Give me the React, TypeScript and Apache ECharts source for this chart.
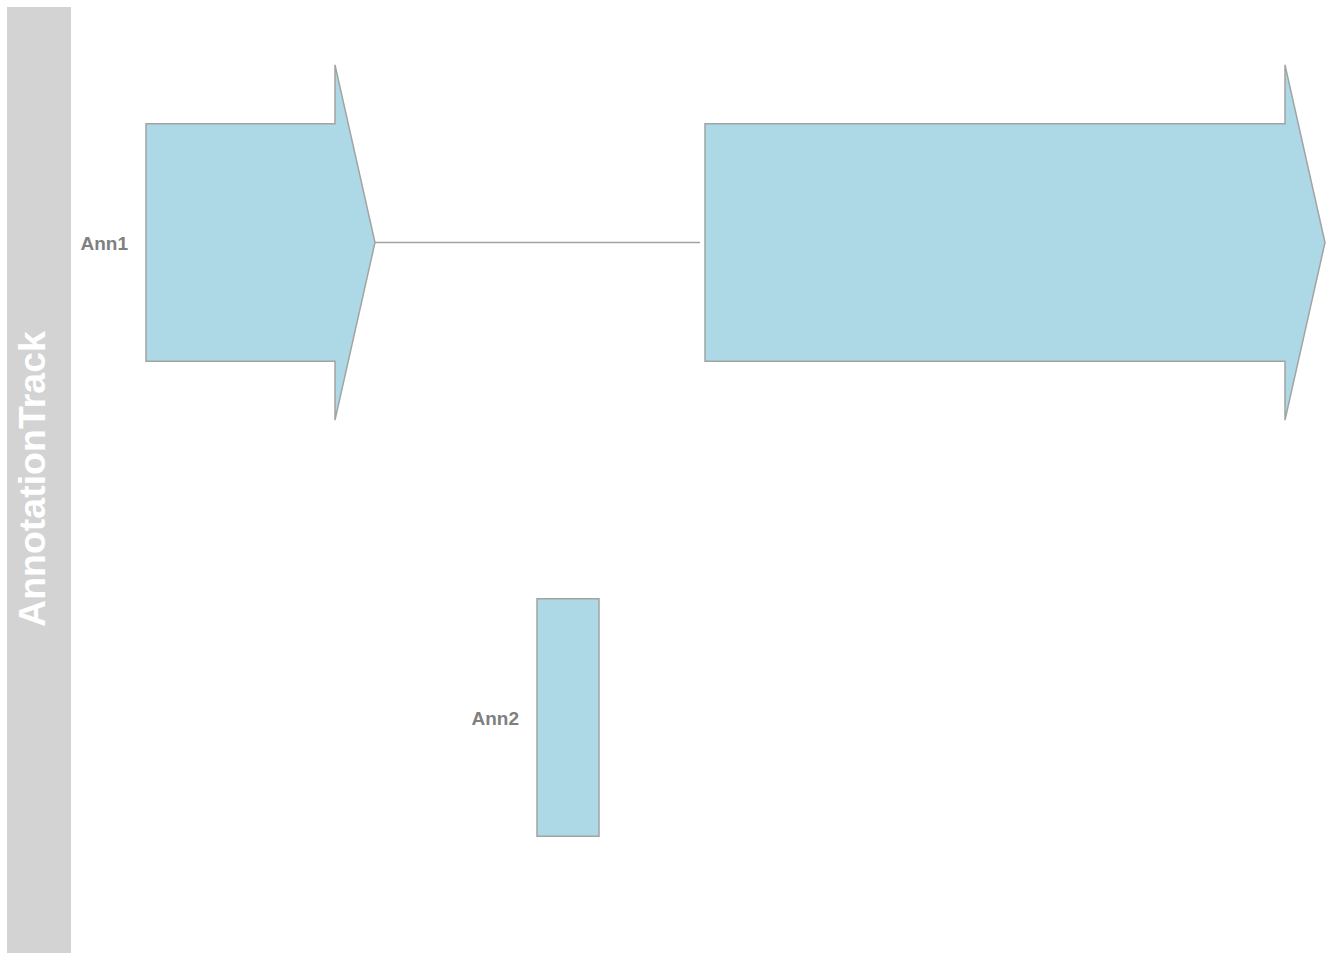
import React, { useEffect, useRef } from "react";
import * as echarts from "echarts";

// Track data (genomic-like coordinates)
const trackTitle = "AnnotationTrack";
const groupNames = ["Ann1", "Ann2"];
const groupRows = [1, 2];
const groupStart = [1146, 1537];
const groupEnd = [2325, 1599];
const featStart = [1146, 1705, 1537];
const featEnd = [1375, 2325, 1599];
const featGroup = [0, 0, 1];
const featStrand = ["+", "+", "*"];

export default function App() {
  const ref = useRef<HTMLDivElement>(null);
  useEffect(() => {
    document.body.style.margin = "0";
    const chart = echarts.init(ref.current!, null, { renderer: "svg" });
    const fill = "#ADD8E6";
    const stroke = "#A3A3A3";
    const headLen = 40;

    const featData = featStart.map((s, i) => [s, featEnd[i], groupRows[featGroup[i]], featStrand[i] === "+" ? 1 : 0, i]);
    const groupData = groupNames.map((n, i) => [groupStart[i], groupEnd[i], groupRows[i], i]);

    chart.setOption({
      animation: false,
      grid: { left: 0, right: 0, top: 5, bottom: 5 },
      xAxis: { type: "value", min: 1000, max: 2344, show: false },
      yAxis: { type: "value", min: 0.5, max: 2.5, inverse: true, show: false },
      graphic: [
        { type: "rect", shape: { x: 7, y: 7, width: 64, height: 946 }, style: { fill: "#D3D3D3" }, silent: true },
        {
          type: "text",
          x: 32,
          y: 479,
          rotation: Math.PI / 2,
          style: {
            text: trackTitle,
            fill: "#FFFFFF",
            font: "bold 37.5px 'Liberation Sans', Arial, sans-serif",
            align: "center",
            verticalAlign: "middle",
          },
          silent: true,
        },
      ],
      series: [
        {
          type: "custom",
          data: groupData,
          z: 1,
          renderItem: (params: any, api: any) => {
            const idx = api.value(3);
            const a = api.coord([api.value(0), api.value(2)]);
            const children: any[] = [];
            // connecting line between features of the same group
            const feats = featStart
              .map((s, i) => ({ s, e: featEnd[i], g: featGroup[i] }))
              .filter((f) => f.g === idx)
              .sort((p, q) => p.s - q.s);
            for (let k = 0; k < feats.length - 1; k++) {
              const p1 = api.coord([feats[k].e, api.value(2)]);
              const p2 = api.coord([feats[k + 1].s, api.value(2)]);
              children.push({
                type: "line",
                shape: { x1: p1[0], y1: p1[1], x2: p2[0] - 5, y2: p2[1] },
                style: { stroke, lineWidth: 1.5 },
              });
            }
            children.push({
              type: "text",
              x: a[0] - 18,
              y: a[1] + 0.5,
              style: {
                text: groupNames[idx],
                fill: "#808080",
                font: "bold 19px 'Liberation Sans', Arial, sans-serif",
                align: "right",
                verticalAlign: "middle",
              },
            });
            return { type: "group", children };
          },
        },
        {
          type: "custom",
          data: featData,
          z: 2,
          renderItem: (params: any, api: any) => {
            const row = api.value(2);
            const p0 = api.coord([api.value(0), row]);
            const p1 = api.coord([api.value(1), row]);
            const yTop = api.coord([api.value(0), row - 0.25])[1];
            const yBot = api.coord([api.value(0), row + 0.25])[1];
            const yOTop = api.coord([api.value(0), row - 0.374])[1];
            const yOBot = api.coord([api.value(0), row + 0.374])[1];
            const yc = p0[1];
            const x0 = p0[0];
            const x1 = p1[0];
            let points: number[][];
            if (api.value(3) === 1) {
              const xh = x1 - headLen;
              points = [
                [x0, yTop], [xh, yTop], [xh, yOTop], [x1, yc], [xh, yOBot], [xh, yBot], [x0, yBot],
              ];
            } else {
              points = [[x0, yTop], [x1, yTop], [x1, yBot], [x0, yBot]];
            }
            return {
              type: "polygon",
              shape: { points },
              style: { fill, stroke, lineWidth: 1.5 },
            };
          },
        },
      ],
    });
    return () => chart.dispose();
  }, []);
  return <div ref={ref} style={{ width: 1344, height: 960 }} />;
}
